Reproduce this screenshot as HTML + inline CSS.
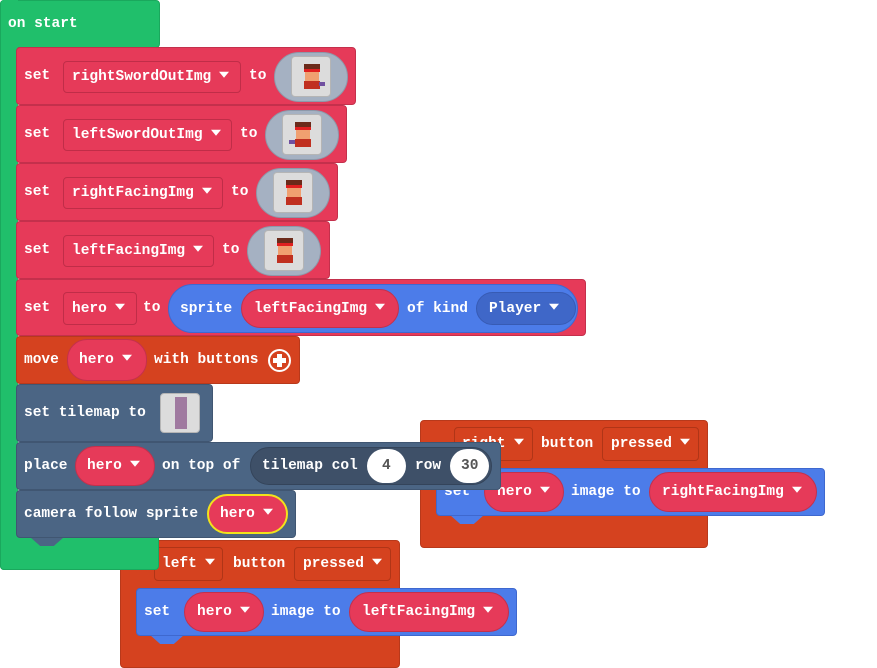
<!DOCTYPE html>
<html><head><meta charset="utf-8"><style>
body{margin:0;width:877px;height:668px;background:#fff;position:relative;overflow:hidden;font:bold 14.5px "Liberation Mono",monospace;color:#fff}
div{position:absolute;box-sizing:border-box}
.t{position:absolute;white-space:nowrap;line-height:1;transform:translateY(-50%)}
.ar{display:inline-block;width:0;height:0;border-left:5px solid transparent;border-right:5px solid transparent;border-top:6px solid #fff;margin-left:8px;vertical-align:middle;position:relative;top:-1px}
.r{background:#e63a59;border:1px solid #c4304c;border-radius:4px}
.o{background:#d5421f;border:1px solid #b8391b;border-radius:4px}
.s{background:#4b6584;border:1px solid #405672;border-radius:4px}
.bl{background:#4c7ce9;border:1px solid #3e68cf;border-radius:4px}
.dd{border-radius:4px}
.rp{background:#e63a59;border:1px solid #c4304c;border-radius:20px}
.pill{background:#a5b1c2;border:1px solid #8d99aa;border-radius:25px}
.img{background:#dcdcdc;border:1px solid #b5b5b5;border-radius:4px;overflow:hidden}
.n{clip-path:polygon(0 0,100% 0,70% 100%,30% 100%)}
</style></head><body>

<!-- left event (under green foot) -->
<div class="o" style="left:120px;top:540px;width:280px;height:128px"></div>
<div class="dd" style="left:154px;top:547px;width:69px;height:34px;border:1px solid #b03517"></div>
<span class="t" style="left:162px;top:564px">left<i class="ar"></i></span>
<span class="t" style="left:233px;top:564px">button</span>
<div class="dd" style="left:294px;top:547px;width:97px;height:34px;border:1px solid #b03517"></div>
<span class="t" style="left:303px;top:564px">pressed<i class="ar"></i></span>
<div class="n" style="left:150px;top:635px;width:34px;height:9px;background:#4c7ce9"></div>
<div class="bl" style="left:136px;top:588px;width:381px;height:48px"></div>
<span class="t" style="left:144px;top:612px">set</span>
<div class="rp" style="left:184px;top:592px;width:80px;height:40px"></div>
<span class="t" style="left:197px;top:612px">hero<i class="ar"></i></span>
<span class="t" style="left:271px;top:612px">image to</span>
<div class="rp" style="left:349px;top:592px;width:160px;height:40px"></div>
<span class="t" style="left:362px;top:612px">leftFacingImg<i class="ar"></i></span>

<!-- green -->
<div style="left:0;top:0;width:160px;height:48px;background:#20bf6b;border-radius:4px;border:1px solid #1aa85d"></div>
<div style="left:0;top:0;width:18px;height:570px;background:#20bf6b;border-radius:4px 0 0 4px;border-left:1px solid #1aa85d"></div>
<div style="left:0;top:535px;width:159px;height:35px;background:#20bf6b;border-radius:0 0 4px 4px;border:1px solid #1aa85d;border-top:none"></div>
<span class="t" style="left:8px;top:24px">on start</span>

<!-- right event -->
<div class="o" style="left:420px;top:420px;width:288px;height:128px"></div>
<div class="dd" style="left:454px;top:427px;width:79px;height:34px;border:1px solid #b03517"></div>
<span class="t" style="left:462px;top:444px">right<i class="ar"></i></span>
<span class="t" style="left:541px;top:444px">button</span>
<div class="dd" style="left:602px;top:427px;width:97px;height:34px;border:1px solid #b03517"></div>
<span class="t" style="left:611px;top:444px">pressed<i class="ar"></i></span>
<div class="n" style="left:450px;top:515px;width:34px;height:9px;background:#4c7ce9"></div>
<div class="bl" style="left:436px;top:468px;width:389px;height:48px"></div>
<span class="t" style="left:444px;top:492px">set</span>
<div class="rp" style="left:484px;top:472px;width:80px;height:40px"></div>
<span class="t" style="left:497px;top:492px">hero<i class="ar"></i></span>
<span class="t" style="left:571px;top:492px">image to</span>
<div class="rp" style="left:649px;top:472px;width:168px;height:40px"></div>
<span class="t" style="left:662px;top:492px">rightFacingImg<i class="ar"></i></span>

<!-- block 1-4 -->
<div class="r" style="left:16px;top:47px;width:340px;height:58px"></div>
<span class="t" style="left:24px;top:76px">set</span>
<div class="dd" style="left:63px;top:61px;width:178px;height:32px;border:1px solid #c02d48"></div>
<span class="t" style="left:72px;top:77px">rightSwordOutImg<i class="ar"></i></span>
<span class="t" style="left:249px;top:76px">to</span>
<div class="pill" style="left:274px;top:52px;width:74px;height:50px"></div>
<div class="img" style="left:291px;top:56px;width:40px;height:41px"><div style="left:12px;top:7px;width:16px;height:8px;background:#6b2a1a"></div><div style="left:12px;top:12px;width:16px;height:3px;background:#e02020"></div><div style="left:13px;top:15px;width:14px;height:9px;background:#f0a070"></div><div style="left:12px;top:24px;width:16px;height:8px;background:#c03020"></div><div style="left:27px;top:25px;width:6px;height:4px;background:#7050a0"></div></div>

<div class="r" style="left:16px;top:105px;width:331px;height:58px"></div>
<span class="t" style="left:24px;top:134px">set</span>
<div class="dd" style="left:63px;top:119px;width:169px;height:32px;border:1px solid #c02d48"></div>
<span class="t" style="left:72px;top:135px">leftSwordOutImg<i class="ar"></i></span>
<span class="t" style="left:240px;top:134px">to</span>
<div class="pill" style="left:265px;top:110px;width:74px;height:50px"></div>
<div class="img" style="left:282px;top:114px;width:40px;height:41px"><div style="left:12px;top:7px;width:16px;height:8px;background:#6b2a1a"></div><div style="left:12px;top:12px;width:16px;height:3px;background:#e02020"></div><div style="left:13px;top:15px;width:14px;height:9px;background:#f0a070"></div><div style="left:12px;top:24px;width:16px;height:8px;background:#c03020"></div><div style="left:6px;top:25px;width:6px;height:4px;background:#7050a0"></div></div>

<div class="r" style="left:16px;top:163px;width:322px;height:58px"></div>
<span class="t" style="left:24px;top:192px">set</span>
<div class="dd" style="left:63px;top:177px;width:160px;height:32px;border:1px solid #c02d48"></div>
<span class="t" style="left:72px;top:193px">rightFacingImg<i class="ar"></i></span>
<span class="t" style="left:231px;top:192px">to</span>
<div class="pill" style="left:256px;top:168px;width:74px;height:50px"></div>
<div class="img" style="left:273px;top:172px;width:40px;height:41px"><div style="left:12px;top:7px;width:16px;height:8px;background:#6b2a1a"></div><div style="left:12px;top:12px;width:16px;height:3px;background:#e02020"></div><div style="left:13px;top:15px;width:14px;height:9px;background:#f0a070"></div><div style="left:12px;top:24px;width:16px;height:8px;background:#c03020"></div></div>

<div class="r" style="left:16px;top:221px;width:314px;height:58px"></div>
<span class="t" style="left:24px;top:250px">set</span>
<div class="dd" style="left:63px;top:235px;width:151px;height:32px;border:1px solid #c02d48"></div>
<span class="t" style="left:72px;top:251px">leftFacingImg<i class="ar"></i></span>
<span class="t" style="left:222px;top:250px">to</span>
<div class="pill" style="left:247px;top:226px;width:74px;height:50px"></div>
<div class="img" style="left:264px;top:230px;width:40px;height:41px"><div style="left:12px;top:7px;width:16px;height:8px;background:#6b2a1a"></div><div style="left:12px;top:12px;width:16px;height:3px;background:#e02020"></div><div style="left:13px;top:15px;width:14px;height:9px;background:#f0a070"></div><div style="left:12px;top:24px;width:16px;height:8px;background:#c03020"></div></div>

<!-- block 5 -->
<div class="r" style="left:16px;top:279px;width:570px;height:57px"></div>
<span class="t" style="left:24px;top:308px">set</span>
<div class="dd" style="left:63px;top:292px;width:74px;height:33px;border:1px solid #c02d48"></div>
<span class="t" style="left:72px;top:309px">hero<i class="ar"></i></span>
<span class="t" style="left:143px;top:308px">to</span>
<div style="left:168px;top:284px;width:410px;height:49px;background:#4c7ce9;border:1px solid #3e68cf;border-radius:25px"></div>
<span class="t" style="left:180px;top:309px">sprite</span>
<div class="rp" style="left:241px;top:289px;width:158px;height:39px"></div>
<span class="t" style="left:254px;top:309px">leftFacingImg<i class="ar"></i></span>
<span class="t" style="left:407px;top:309px">of kind</span>
<div style="left:476px;top:292px;width:100px;height:33px;background:#3f67c8;border:1px solid #375bb4;border-radius:17px"></div>
<span class="t" style="left:489px;top:309px">Player<i class="ar"></i></span>

<!-- block 6 -->
<div class="o" style="left:16px;top:336px;width:284px;height:48px"></div>
<span class="t" style="left:24px;top:360px">move</span>
<div class="rp" style="left:67px;top:339px;width:80px;height:42px"></div>
<span class="t" style="left:79px;top:360px">hero<i class="ar"></i></span>
<span class="t" style="left:154px;top:360px">with buttons</span>
<div style="left:268px;top:349px;width:23px;height:23px;border:2px solid #fff;border-radius:50%"></div>
<div style="left:273px;top:358px;width:13px;height:5px;background:#fff"></div>
<div style="left:277px;top:354px;width:5px;height:13px;background:#fff"></div>

<!-- block 7 -->
<div class="s" style="left:16px;top:384px;width:197px;height:58px"></div>
<span class="t" style="left:24px;top:413px">set tilemap to</span>
<div class="img" style="left:160px;top:393px;width:40px;height:40px"><div style="left:14px;top:3px;width:12px;height:32px;background:#a07aa0"></div></div>

<!-- block 8 -->
<div class="s" style="left:16px;top:442px;width:485px;height:48px"></div>
<span class="t" style="left:24px;top:466px">place</span>
<div class="rp" style="left:75px;top:446px;width:80px;height:40px"></div>
<span class="t" style="left:87px;top:466px">hero<i class="ar"></i></span>
<span class="t" style="left:162px;top:466px">on top of</span>
<div style="left:250px;top:447px;width:242px;height:38px;background:#3e5068;border:1px solid #34445a;border-radius:19px"></div>
<span class="t" style="left:262px;top:466px">tilemap col</span>
<div style="left:367px;top:449px;width:39px;height:34px;background:#fff;border-radius:17px"></div>
<span class="t" style="left:382px;top:466px;color:#555">4</span>
<span class="t" style="left:415px;top:466px">row</span>
<div style="left:450px;top:449px;width:39px;height:34px;background:#fff;border-radius:17px"></div>
<span class="t" style="left:461px;top:466px;color:#555">30</span>

<!-- block 9 -->
<div class="n" style="left:30px;top:537px;width:34px;height:9px;background:#4b6584"></div>
<div class="s" style="left:16px;top:490px;width:280px;height:48px"></div>
<span class="t" style="left:24px;top:514px">camera follow sprite</span>
<div style="left:207px;top:494px;width:81px;height:40px;background:#e63a59;border:2px solid #f2e21b;border-radius:20px"></div>
<span class="t" style="left:220px;top:514px">hero<i class="ar"></i></span>

</body></html>
